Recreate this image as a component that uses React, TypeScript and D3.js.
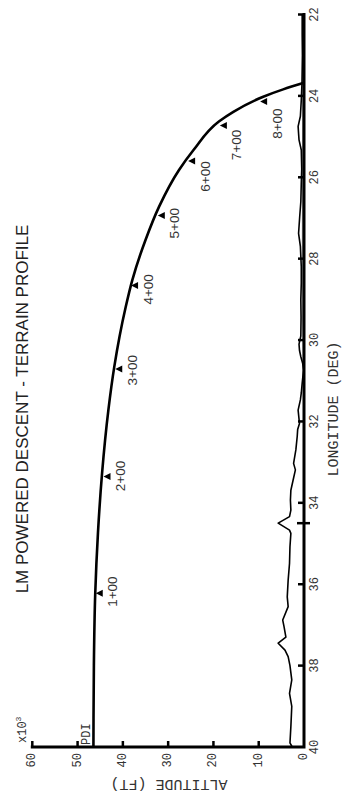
import * as d3 from 'd3';

// longitude (deg) / altitude (x1000 ft)
const lonTicks = [22, 24, 26, 28, 30, 32, 34, 36, 38, 40];
const altTicks = [0, 10, 20, 30, 40, 50, 60];
const markTicks = [34.5];

const trajLon = [23.68, 23.84, 24.02, 24.39, 24.63, 25.33, 25.82, 26.72, 27.54, 28.52, 29.2, 30.66, 31.72, 33.28, 34.74, 36.22, 38.0, 40.0];
const trajAlt = [0, 4.6, 9.0, 15.6, 18.8, 24.4, 27.6, 32.0, 35.0, 37.9, 39.4, 41.9, 43.2, 44.6, 45.5, 46.1, 46.4, 46.5];

const terrainLon = [22.0, 22.5, 23.0, 23.7, 24.1, 24.5, 24.75, 24.92, 25.08, 25.33, 25.8, 26.14, 26.6, 26.97, 27.38, 27.7, 28.2, 28.6, 29.0, 29.44, 29.9, 30.1, 30.25, 30.41, 30.57, 30.74, 31.06, 31.3, 31.47, 31.72, 32.05, 32.2, 32.37, 32.7, 33.03, 33.19, 33.44, 33.69, 33.93, 34.18, 34.34, 34.5, 34.67, 34.75, 35.08, 35.49, 35.9, 36.31, 36.55, 36.88, 37.05, 37.3, 37.45, 37.62, 37.78, 38.0, 38.35, 38.68, 39.0, 39.5, 39.9, 40.0];
const terrainAlt = [0.4, 0.4, 0.35, 0.45, 0.6, 0.8, 1.3, 1.2, 1.1, 0.6, 0.5, 0.6, 0.7, 0.95, 1.2, 0.8, 0.6, 0.6, 0.7, 0.65, 0.7, 1.1, 1.0, 0.7, 0.3, 0.1, 0.4, 0.6, 0.8, 1.3, 1.0, 1.4, 1.5, 1.8, 2.3, 1.9, 2.4, 2.9, 3.0, 2.9, 3.2, 5.7, 3.2, 2.9, 3.1, 3.2, 3.5, 3.7, 3.5, 4.7, 4.4, 4.0, 5.7, 4.2, 3.5, 3.1, 2.7, 3.2, 2.7, 2.9, 3.1, 2.6];

const refLon = [22.0, 24.0, 26.0, 28.0, 29.5, 30.5, 31.0];
const refAlt = [0.2, 0.25, 0.3, 0.35, 0.3, 0.12, 0.05];

const markLabels = ['8+00', '7+00', '6+00', '5+00', '4+00', '3+00', '2+00', '1+00'];
const markLon = [24.14, 24.73, 25.6, 26.94, 28.66, 30.71, 33.35, 36.22];
const markAlt = [8.8, 17.7, 24.7, 31.4, 37.3, 40.8, 43.4, 45.1];

const mono = '"Liberation Mono", "DejaVu Sans Mono", monospace';
const sans = '"Liberation Sans", Arial, sans-serif';

export default function App() {
  const width = 342;
  const height = 798;
  const axisX = 304;
  const axisY = 747;

  const y = d3.scaleLinear().domain([22, 40]).range([14.5, axisY]);
  const x = d3.scaleLinear().domain([0, 60]).range([axisX, 32.3]);

  const traj = d3.line<number>()
    .x(i => x(trajAlt[i]))
    .y(i => y(trajLon[i]))
    .curve(d3.curveMonotoneY);
  const terrain = d3.line<number>()
    .x(i => x(terrainAlt[i]))
    .y(i => y(terrainLon[i]));
  const ref = d3.line<number>()
    .x(i => x(refAlt[i]))
    .y(i => y(refLon[i]));

  // slope of the trajectory on screen, used to nudge marker labels clear of it
  const slopeAt = (lon: number) => {
    let k = d3.bisectRight(trajLon, lon) - 1;
    k = Math.max(0, Math.min(trajLon.length - 2, k));
    const dx = x(trajAlt[k + 1]) - x(trajAlt[k]);
    const dy = y(trajLon[k + 1]) - y(trajLon[k]);
    return Math.abs(dx / dy);
  };

  return (
    <svg width={width} height={height} style={{ position: 'absolute', left: 0, top: 0, background: '#fff' }}>
      {/* title */}
      <text transform={`translate(22,409) rotate(-90)`} textAnchor="middle" dominantBaseline="central"
        fontFamily={sans} fontSize={17} fill="#222">LM POWERED DESCENT - TERRAIN PROFILE</text>

      {/* terrain */}
      <path d={ref(d3.range(refLon.length)) || ''} fill="none" stroke="#999" strokeWidth={1.3} />
      <path d={terrain(d3.range(terrainLon.length)) || ''} fill="none" stroke="#000" strokeWidth={1.6} strokeLinejoin="round" />

      {/* trajectory */}
      <path d={traj(d3.range(trajLon.length)) || ''} fill="none" stroke="#000" strokeWidth={2.6} />

      {markLabels.map((lab, i) => {
        const tx = x(markAlt[i]);
        const ty = y(markLon[i]);
        const off = -2 + 24 * Math.min(1, slopeAt(markLon[i]));
        return (
          <g key={lab}>
            <path d={`M${tx - 4},${ty} L${tx + 3},${ty - 3.5} L${tx + 3},${ty + 3.5} Z`} fill="#000" />
            <text transform={`translate(${tx + 13},${ty + off}) rotate(-90)`} textAnchor="middle" dominantBaseline="central"
              fontFamily={sans} fontSize={13.5} fill="#333">{lab}</text>
          </g>
        );
      })}

      {/* axes */}
      <path d={`M${axisX},${y(22)} V${axisY} H${x(60)}`} fill="none" stroke="#000" strokeWidth={3} strokeLinecap="square" />
      {lonTicks.slice(0, -1).map(t => (
        <line key={'lt' + t} x1={axisX - 6} x2={axisX} y1={y(t)} y2={y(t)} stroke="#000" strokeWidth={2.5} />
      ))}
      {markTicks.map(t => (
        <line key={'mt' + t} x1={axisX - 7} x2={axisX + 6} y1={y(t)} y2={y(t)} stroke="#000" strokeWidth={2.5} />
      ))}
      {altTicks.slice(1).map(t => (
        <line key={'at' + t} x1={x(t)} x2={x(t)} y1={axisY - 6} y2={axisY} stroke="#000" strokeWidth={2.5} />
      ))}

      {lonTicks.map(t => (
        <text key={'ll' + t} transform={`translate(315,${y(t)}) rotate(-90)`} textAnchor="middle" dominantBaseline="central"
          fontFamily={mono} fontSize={12} fill="#333">{t}</text>
      ))}
      {altTicks.map(t => (
        <text key={'al' + t} transform={`translate(${x(t)},753) rotate(-90)`} textAnchor="end" dominantBaseline="central"
          fontFamily={mono} fontSize={12} fill="#333">{t}</text>
      ))}

      <text transform={`translate(23,743) rotate(-90)`} textAnchor="start" dominantBaseline="central"
        fontFamily={mono} fontSize={12} fill="#333">x10<tspan fontSize={8} dy={-5}>3</tspan></text>
      <text transform={`translate(87,745) rotate(-90)`} textAnchor="start" dominantBaseline="central"
        fontFamily={mono} fontSize={12} fill="#333">PDI</text>

      <text transform={`translate(169,783) rotate(180)`} textAnchor="middle" dominantBaseline="central"
        fontFamily={mono} fontSize={15} fill="#333">ALTITUDE (FT)</text>
      <text transform={`translate(334,409) rotate(-90)`} textAnchor="middle" dominantBaseline="central"
        fontFamily={mono} fontSize={15} fill="#333">LONGITUDE (DEG)</text>
    </svg>
  );
}
